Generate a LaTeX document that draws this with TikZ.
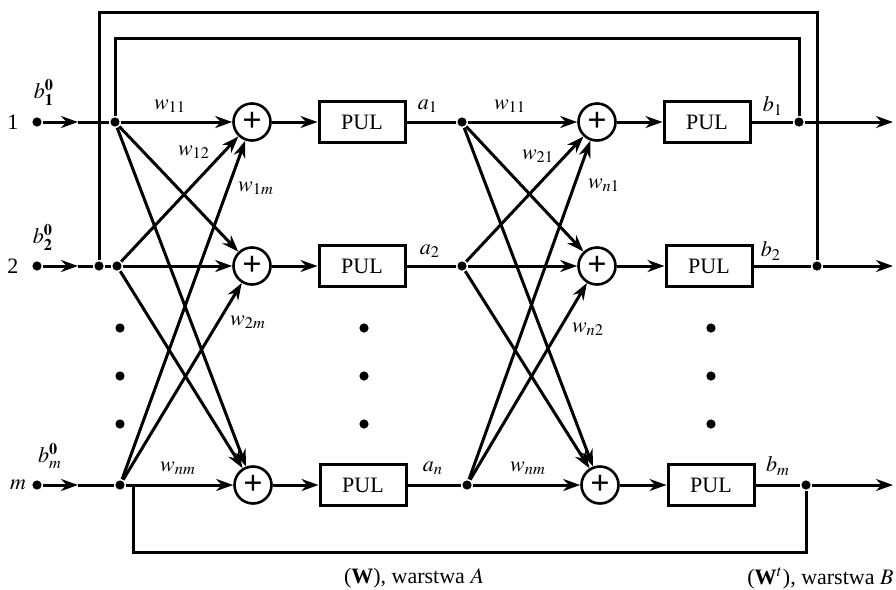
\documentclass[tikz,border=0pt]{standalone}
\usepackage{mathptmx}
\usepackage{fontspec}
\setmainfont{Liberation Serif}
\usetikzlibrary{arrows.meta}
\begin{document}
\begin{tikzpicture}[x=0.5pt,y=-0.5pt,
  line width=1.5pt,
  every node/.style={font=\fontsize{11}{12}\selectfont},
  sumnode/.style={circle,draw,line width=1.3pt,minimum size=18.5pt,inner sep=0pt,
                  font=\fontsize{17}{17}\selectfont\bfseries},
  pul/.style={draw,line width=1.5pt,minimum width=43pt,minimum height=20.5pt,inner sep=0pt},
  jdot/.style={circle,fill,inner sep=0pt,minimum size=4.6pt},
  vdot/.style={circle,fill,inner sep=0pt,minimum size=4.6pt},
  arr/.style={-{Stealth[length=8.5pt,width=6pt]}},
]
\path[use as bounding box] (0,0) rectangle (896,590);

% ---- inputs ----
\node[jdot] (in1) at (37,122) {};
\node[jdot] (in2) at (37,266) {};
\node[jdot] (inm) at (37,485) {};
\node (n1) at (13,122) {1};
\node (n2) at (13,266) {2};
\node (nm) at (18,485) {$m$};
\node (b10) at (44,92) {$b_{\mathbf 1}^{\mathbf 0}$};
\node (b20) at (43,237) {$b_{\mathbf 2}^{\mathbf 0}$};
\node (bm0) at (50,456) {$b_{m}^{\mathbf 0}$};

\coordinate (t1) at (78,122);
\coordinate (t2) at (78,266);
\coordinate (tm) at (78,485);

% branch points of layer A
\node[jdot] (j1) at (115,122) {};
\node[jdot] (k2) at (99,266) {};
\node[jdot] (j2) at (117,266) {};
\node[jdot] (jm) at (120,485) {};
\coordinate (bm) at (133,485);

% ---- layer A ----
\node[sumnode] (sA1) at (252,122) {+};
\node[sumnode] (sA2) at (252,266) {+};
\node[sumnode] (sAm) at (253,485) {+};
\node[pul] (pA1) at (362,122) {PUL};
\node[pul] (pA2) at (362,266) {PUL};
\node[pul] (pAm) at (363,485) {PUL};

% branch points of layer B
\node[jdot] (a1) at (462,122) {};
\node[jdot] (a2) at (462,266) {};
\node[jdot] (an) at (467,485) {};

% ---- layer B ----
\node[sumnode] (sB1) at (597,122) {+};
\node[sumnode] (sB2) at (597,266) {+};
\node[sumnode] (sBm) at (600,485) {+};
\node[pul] (pB1) at (707,122) {PUL};
\node[pul] (pB2) at (709,266) {PUL};
\node[pul] (pBm) at (711,485) {PUL};

% output branch points and ends
\node[jdot] (r1) at (799,122) {};
\node[jdot] (r2) at (817,266) {};
\node[jdot] (rm) at (806,485) {};
\coordinate (o1) at (893,122);
\coordinate (o2) at (893,266);
\coordinate (om) at (893,485);

% ---- input lines ----
\draw[arr] (in1) -- (t1);
\draw (t1) -- (j1);
\draw[arr] (in2) -- (t2);
\draw (t2) -- (k2) -- (j2);
\draw[arr] (inm) -- (tm);
\draw (tm) -- (jm);

% ---- layer A connections ----
\draw[arr] (j1) -- (sA1);
\draw[arr] (j2) -- (sA2);
\draw[arr] (jm) -- (sAm);
\draw[arr] (j1) -- (sA2);
\draw[arr] (j1) -- (sAm);
\draw[arr] (j2) -- (sA1);
\draw[arr] (j2) -- (sAm);
\draw[arr] (jm) -- (sA1);
\draw[arr] (jm) -- (sA2);
\draw[arr] (sA1) -- (pA1);
\draw[arr] (sA2) -- (pA2);
\draw[arr] (sAm) -- (pAm);
\draw (pA1) -- (a1);
\draw (pA2) -- (a2);
\draw (pAm) -- (an);

% ---- layer B connections ----
\draw[arr] (a1) -- (sB1);
\draw[arr] (a2) -- (sB2);
\draw[arr] (an) -- (sBm);
\draw[arr] (a1) -- (sB2);
\draw[arr] (a1) -- (sBm);
\draw[arr] (a2) -- (sB1);
\draw[arr] (a2) -- (sBm);
\draw[arr] (an) -- (sB1);
\draw[arr] (an) -- (sB2);
\draw[arr] (sB1) -- (pB1);
\draw[arr] (sB2) -- (pB2);
\draw[arr] (sBm) -- (pBm);
\draw (pB1) -- (r1);
\draw (pB2) -- (r2);
\draw (pBm) -- (rm);
\draw[arr] (r1) -- (o1);
\draw[arr] (r2) -- (o2);
\draw[arr] (rm) -- (om);

% ---- feedback loops ----
\coordinate (u1) at (99,12);
\coordinate (u2) at (817,12);
\draw (k2) -- (u1) -- (u2) -- (r2);
\coordinate (v1) at (115,38);
\coordinate (v2) at (799,38);
\draw (j1) -- (v1) -- (v2) -- (r1);
\coordinate (d1) at (133,552);
\coordinate (d2) at (806,552);
\draw (bm) -- (d1) -- (d2) -- (rm);

% ---- weight labels ----
\node (wa11) at (170,106) {$w_{11}$};
\node (wa12) at (194,152) {$w_{12}$};
\node (wa1m) at (256,188) {$w_{1m}$};
\node (wa2m) at (248,322) {$w_{2m}$};
\node (wanm) at (178,468) {$w_{nm}$};
\node (wb11) at (510,106) {$w_{11}$};
\node (wb21) at (538,156) {$w_{21}$};
\node (wbn1) at (604,185) {$w_{n1}$};
\node (wbn2) at (588,329) {$w_{n2}$};
\node (wbnm) at (528,468) {$w_{nm}$};

% ---- signal labels ----
\node (la1) at (428,106) {$a_1$};
\node (la2) at (430,251) {$a_2$};
\node (lan) at (433,468) {$a_n$};
\node (lb1) at (773,106) {$b_1$};
\node (lb2) at (771,251) {$b_2$};
\node (lbm) at (778,466) {$b_m$};

% ---- vertical ellipses ----
\foreach \yy [count=\i] in {328,376,424} {
  \node[vdot] (ea\i) at (120,\yy) {};
  \node[vdot] (ep\i) at (364,\yy) {};
  \node[vdot] (eb\i) at (711,\yy) {};
}

% ---- captions ----
\node (capA) at (414,578) {(\textbf{W}), warstwa $A$};
\node[anchor=east,inner sep=0pt] (capB) at (895,578) {(\textbf{W}$^t$), warstwa $B$};
\end{tikzpicture}
\end{document}
